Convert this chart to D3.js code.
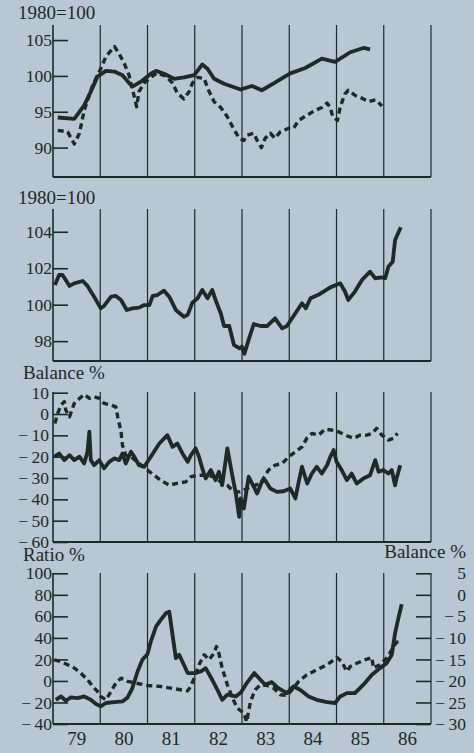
<!DOCTYPE html>
<html>
<head>
<meta charset="utf-8">
<script src="https://cdn.jsdelivr.net/npm/d3@7"></script>
<style>
  html, body { margin: 0; padding: 0; background: #b7c7d4; }
  svg { display: block; }
</style>
</head>
<body>
<div id="chart"></div>
<script>
// x axis: year boundaries and labels
const yearLines = [1979, 1980, 1981, 1982, 1983, 1984, 1985, 1986, 1987];
const yearLabels = ['79', '80', '81', '82', '83', '84', '85', '86'];

// panel 1 (1980 = 100)
const p1Ticks = [90, 95, 100, 105];
const p1Solid = [[1979.1,94.2],[1979.45,94.0],[1979.66,95.9],[1979.8,97.8],[1979.94,99.9],[1980.12,100.7],[1980.3,100.6],[1980.47,100.1],[1980.68,98.5],[1980.86,99.2],[1981.07,100.3],[1981.18,100.7],[1981.35,100.3],[1981.56,99.6],[1981.77,99.8],[1981.99,100.1],[1982.16,101.6],[1982.27,101.0],[1982.41,99.6],[1982.62,98.9],[1982.97,98.1],[1983.21,98.6],[1983.42,98.0],[1983.67,98.95],[1984.02,100.35],[1984.34,101.1],[1984.69,102.4],[1984.97,101.97],[1985.29,103.3],[1985.57,103.9],[1985.71,103.7]];
const p1Dashed = [[1979.1,92.4],[1979.31,92.2],[1979.45,90.5],[1979.56,92.0],[1979.66,95.2],[1979.84,98.7],[1980.01,101.0],[1980.12,102.7],[1980.3,104.1],[1980.4,103.1],[1980.51,101.7],[1980.61,100.1],[1980.72,97.1],[1980.77,95.7],[1980.82,97.8],[1980.93,99.0],[1981.04,99.65],[1981.2,100.4],[1981.38,100.0],[1981.53,99.0],[1981.63,97.6],[1981.77,96.8],[1981.88,97.8],[1981.95,99.0],[1982.06,99.8],[1982.2,99.65],[1982.27,98.3],[1982.41,96.4],[1982.55,95.6],[1982.69,94.3],[1982.8,92.9],[1982.94,91.3],[1983.04,91.0],[1983.1,91.7],[1983.25,92.0],[1983.32,91.0],[1983.41,90.0],[1983.49,91.3],[1983.6,92.0],[1983.7,91.3],[1983.81,92.2],[1983.99,92.7],[1984.09,92.7],[1984.2,93.8],[1984.37,94.5],[1984.55,95.2],[1984.69,95.6],[1984.8,96.2],[1984.87,95.6],[1984.92,94.3],[1985.02,93.8],[1985.08,95.7],[1985.18,97.5],[1985.25,98.0],[1985.39,97.3],[1985.54,96.9],[1985.68,96.4],[1985.78,96.6],[1985.85,96.6],[1985.96,95.8]];

// panel 2 (1980 = 100)
const p2Ticks = [98, 100, 102, 104];
const p2Solid = [[1979.04,101.08],[1979.13,101.63],[1979.2,101.63],[1979.27,101.36],[1979.35,101.03],[1979.45,101.17],[1979.63,101.3],[1979.73,101.03],[1979.87,100.44],[1980.01,99.8],[1980.08,99.93],[1980.23,100.44],[1980.33,100.48],[1980.44,100.26],[1980.56,99.71],[1980.68,99.8],[1980.82,99.84],[1980.93,99.98],[1981.04,99.98],[1981.11,100.48],[1981.21,100.53],[1981.35,100.77],[1981.46,100.44],[1981.6,99.71],[1981.77,99.34],[1981.85,99.44],[1981.95,100.11],[1982.06,100.35],[1982.16,100.81],[1982.27,100.35],[1982.37,100.81],[1982.44,100.26],[1982.55,99.53],[1982.62,98.83],[1982.73,98.83],[1982.83,97.79],[1982.94,97.61],[1983.0,97.7],[1983.05,97.3],[1983.14,98.07],[1983.25,98.94],[1983.39,98.83],[1983.53,98.83],[1983.7,99.25],[1983.85,98.7],[1983.95,98.83],[1984.13,99.53],[1984.27,100.08],[1984.35,99.8],[1984.45,100.35],[1984.65,100.59],[1984.87,100.95],[1985.08,101.17],[1985.18,100.72],[1985.25,100.26],[1985.39,100.72],[1985.54,101.36],[1985.71,101.81],[1985.82,101.45],[1985.96,101.5],[1986.03,101.45],[1986.1,102.09],[1986.19,102.36],[1986.24,103.55],[1986.36,104.25]];

// panel 3 (Balance %)
const p3Ticks = [10, 0, -10, -20, -30, -40, -50, -60];
const p3Solid = [[1979.03,-20.0],[1979.13,-18.5],[1979.24,-21.6],[1979.35,-19.3],[1979.45,-21.6],[1979.56,-20.0],[1979.66,-23.2],[1979.73,-17.7],[1979.77,-8.3],[1979.8,-21.6],[1979.87,-24.0],[1979.98,-21.6],[1980.08,-25.5],[1980.19,-22.4],[1980.3,-20.8],[1980.4,-21.6],[1980.47,-18.5],[1980.54,-23.2],[1980.65,-17.7],[1980.72,-20.0],[1980.82,-24.0],[1980.93,-24.7],[1981.07,-20.0],[1981.25,-13.8],[1981.42,-9.9],[1981.53,-15.4],[1981.63,-13.8],[1981.74,-18.5],[1981.85,-22.4],[1981.92,-19.3],[1982.02,-16.1],[1982.09,-20.0],[1982.16,-25.5],[1982.23,-30.2],[1982.34,-26.3],[1982.44,-31.0],[1982.51,-27.1],[1982.58,-33.4],[1982.69,-16.1],[1982.8,-29.4],[1982.87,-37.3],[1982.94,-48.2],[1982.97,-39.6],[1983.04,-44.3],[1983.14,-29.4],[1983.25,-34.1],[1983.32,-37.3],[1983.42,-31.8],[1983.49,-31.0],[1983.6,-34.9],[1983.74,-36.5],[1983.88,-36.2],[1984.02,-34.9],[1984.13,-39.6],[1984.2,-31.8],[1984.27,-24.7],[1984.38,-32.6],[1984.48,-27.9],[1984.58,-24.7],[1984.69,-27.9],[1984.8,-24.0],[1984.87,-20.0],[1984.94,-16.9],[1985.0,-22.4],[1985.11,-26.3],[1985.22,-31.0],[1985.32,-27.9],[1985.43,-32.6],[1985.57,-30.2],[1985.71,-28.7],[1985.82,-21.6],[1985.89,-27.1],[1985.99,-26.3],[1986.1,-27.9],[1986.17,-26.3],[1986.24,-33.4],[1986.27,-30.2],[1986.35,-24.0]];
const p3Dashed = [[1979.04,-4.4],[1979.1,0.3],[1979.17,4.2],[1979.24,5.8],[1979.27,1.9],[1979.35,-1.3],[1979.45,5.0],[1979.56,7.3],[1979.66,9.2],[1979.77,7.3],[1979.87,8.1],[1979.98,7.3],[1980.08,5.0],[1980.23,4.2],[1980.33,3.4],[1980.37,-1.3],[1980.44,-8.3],[1980.47,-14.6],[1980.54,-19.3],[1980.65,-20.0],[1980.82,-23.2],[1981.0,-26.3],[1981.14,-28.7],[1981.28,-31.0],[1981.46,-33.4],[1981.6,-32.6],[1981.81,-31.8],[1981.92,-29.4],[1982.06,-28.7],[1982.23,-28.7],[1982.41,-29.4],[1982.55,-31.8],[1982.69,-33.4],[1982.83,-36.5],[1982.96,-36.5],[1983.18,-34.1],[1983.39,-32.6],[1983.56,-26.3],[1983.7,-24.0],[1983.85,-23.2],[1983.99,-20.0],[1984.13,-17.7],[1984.27,-15.4],[1984.37,-11.4],[1984.48,-9.1],[1984.62,-9.9],[1984.76,-7.1],[1984.9,-7.5],[1985.04,-8.3],[1985.22,-10.2],[1985.36,-11.4],[1985.5,-9.9],[1985.64,-9.9],[1985.75,-9.1],[1985.85,-6.7],[1985.96,-9.9],[1986.1,-12.2],[1986.2,-11.4],[1986.29,-9.1]];

// panel 4 (Ratio % left, Balance % right)
const p4Ticks = [-40, -20, 0, 20, 40, 60, 80, 100];
const p4RightTicks = [-30, -25, -20, -15, -10, -5, 0, 5];
const p4Solid = [[1979.06,-17.5],[1979.17,-14.4],[1979.27,-18.4],[1979.38,-15.3],[1979.52,-15.9],[1979.66,-14.4],[1979.8,-17.5],[1979.91,-21.5],[1980.01,-23.6],[1980.12,-20.5],[1980.3,-19.6],[1980.47,-19.0],[1980.58,-15.3],[1980.68,-6.6],[1980.79,8.8],[1980.89,19.6],[1981.0,24.9],[1981.07,36.6],[1981.18,50.5],[1981.28,56.7],[1981.39,62.9],[1981.46,64.4],[1981.53,42.8],[1981.6,21.2],[1981.67,24.3],[1981.77,15.0],[1981.85,7.3],[1981.99,7.3],[1982.13,8.8],[1982.23,11.9],[1982.37,1.1],[1982.48,-8.2],[1982.58,-17.5],[1982.69,-12.8],[1982.87,-14.4],[1982.98,-10.5],[1983.1,-2.0],[1983.26,7.3],[1983.39,1.1],[1983.49,-3.5],[1983.63,-1.1],[1983.77,-6.6],[1983.95,-11.3],[1984.09,-5.1],[1984.23,-8.2],[1984.41,-14.4],[1984.58,-17.5],[1984.8,-19.6],[1984.97,-20.5],[1985.08,-14.4],[1985.22,-11.3],[1985.39,-11.3],[1985.57,-3.5],[1985.75,5.7],[1985.92,11.9],[1986.06,16.5],[1986.17,24.3],[1986.24,44.4],[1986.31,58.3],[1986.38,71.2]];
const p4Dashed = [[1979.03,-15.1],[1979.17,-15.5],[1979.31,-16.25],[1979.45,-17.0],[1979.59,-18.2],[1979.73,-19.7],[1979.84,-21.3],[1979.94,-22.4],[1980.01,-23.6],[1980.12,-24.4],[1980.23,-22.4],[1980.33,-20.5],[1980.44,-19.35],[1980.58,-20.1],[1980.75,-20.5],[1981.0,-21.05],[1981.28,-21.3],[1981.56,-21.8],[1981.85,-22.3],[1981.9,-21.5],[1981.99,-19.35],[1982.09,-16.25],[1982.2,-13.9],[1982.3,-15.1],[1982.41,-13.55],[1982.46,-12.0],[1982.51,-13.55],[1982.58,-17.0],[1982.69,-20.9],[1982.8,-24.0],[1982.9,-26.3],[1983.04,-27.5],[1983.1,-29.5],[1983.14,-27.0],[1983.18,-24.75],[1983.28,-22.05],[1983.39,-20.9],[1983.53,-21.05],[1983.67,-21.65],[1983.81,-23.2],[1983.95,-23.35],[1984.06,-22.05],[1984.2,-20.1],[1984.37,-18.6],[1984.58,-17.4],[1984.8,-16.25],[1985.01,-14.55],[1985.11,-15.5],[1985.22,-17.8],[1985.29,-16.65],[1985.43,-15.9],[1985.6,-15.1],[1985.75,-14.55],[1985.78,-17.0],[1985.92,-16.25],[1986.06,-14.7],[1986.17,-12.8],[1986.27,-11.0],[1986.38,-10.85]];

const ink = '#1c2b25';
const font = '"Liberation Serif", "Times New Roman", "DejaVu Serif", serif';
const width = 474, height = 753;

const svg = d3.select('#chart')
  .append('svg')
  .attr('width', width)
  .attr('height', height);

svg.append('rect').attr('width', width).attr('height', height).attr('fill', '#b7c7d4');

const x = d3.scaleLinear().domain([1979, 1987]).range([53, 431]);

const minus = d => d < 0 ? '\u2212\u2009' + Math.abs(d) : String(d);

const panels = [
  {top: 25, bottom: 177, domain: [85.9, 107.1], range: [177, 25], ticks: p1Ticks, title: '1980=100', titleY: 19, labelX: 53,
   series: [{data: p1Dashed, dashed: true}, {data: p1Solid}]},
  {top: 209, bottom: 361, domain: [96.91, 105.25], range: [361, 209], ticks: p2Ticks, title: '1980=100', titleY: 204, labelX: 53,
   series: [{data: p2Solid}]},
  {top: 392, bottom: 542, domain: [-60, 10], range: [542, 392.7], ticks: p3Ticks, title: 'Balance %', titleY: 379, titleX: 23, labelX: 50,
   series: [{data: p3Dashed, dashed: true}, {data: p3Solid}]},
  {top: 573, bottom: 724, domain: [-40, 100], range: [724, 573.3], ticks: p4Ticks, title: 'Ratio %', titleY: 561, titleX: 23, labelX: 53,
   series: [{data: p4Dashed, dashed: true, right: true}, {data: p4Solid}]}
];

panels.forEach((p, i) => {
  const g = svg.append('g');
  const y = d3.scaleLinear().domain(p.domain).range(p.range);

  // year grid lines and left axis line
  g.selectAll('line.grid')
    .data(yearLines)
    .enter()
    .append('line')
    .attr('x1', d => x(d)).attr('x2', d => x(d))
    .attr('y1', p.top).attr('y2', p.bottom)
    .attr('stroke', ink)
    .attr('stroke-width', d => d === 1979 ? 1.6 : 1.2);

  // bottom line
  g.append('line')
    .attr('x1', x(1979)).attr('x2', x(1987))
    .attr('y1', p.bottom).attr('y2', p.bottom)
    .attr('stroke', ink).attr('stroke-width', 1.8);

  // left ticks, pointing inwards
  const ax = g.append('g')
    .attr('transform', `translate(${x(1979)},0)`)
    .call(d3.axisLeft(y).tickValues(p.ticks).tickSize(-15).tickPadding(53 - p.labelX + 1).tickFormat(minus));
  ax.select('.domain').remove();
  ax.selectAll('line').attr('stroke', ink).attr('stroke-width', 1.6);
  ax.selectAll('text')
    .attr('fill', ink)
    .style('font-family', font)
    .style('font-size', '17.5px');

  // title
  svg.append('text')
    .attr('x', p.titleX || 18)
    .attr('y', p.titleY)
    .attr('fill', ink)
    .style('font-family', font)
    .style('font-size', '19px')
    .text(p.title);

  // right axis for the last panel
  let yRight = null;
  if (i === 3) {
    yRight = d3.scaleLinear().domain([-30, 5]).range(p.range);
    const ar = g.append('g')
      .attr('transform', `translate(${x(1987)},0)`)
      .call(d3.axisRight(yRight).tickValues(p4RightTicks).tickSize(-15).tickFormat(minus));
    ar.select('.domain').remove();
    ar.selectAll('line').attr('stroke', ink).attr('stroke-width', 1.6);
    ar.selectAll('text')
      .attr('x', 35)
      .attr('text-anchor', 'end')
      .attr('fill', ink)
      .style('font-family', font)
      .style('font-size', '17.5px');

    svg.append('text')
      .attr('x', 466)
      .attr('y', 558)
      .attr('text-anchor', 'end')
      .attr('fill', ink)
      .style('font-family', font)
      .style('font-size', '19px')
      .text('Balance %');

    // year labels
    svg.selectAll('text.year')
      .data(yearLabels)
      .enter()
      .append('text')
      .attr('class', 'year')
      .attr('x', (d, k) => x(1979.5 + k))
      .attr('y', 745)
      .attr('text-anchor', 'middle')
      .attr('fill', ink)
      .style('font-family', font)
      .style('font-size', '19px')
      .text(d => d);
  }

  // series
  p.series.forEach(s => {
    const ys = s.right ? yRight : y;
    const line = d3.line()
      .x(d => x(d[0]))
      .y(d => ys(d[1]));
    g.append('path')
      .datum(s.data)
      .attr('fill', 'none')
      .attr('stroke', ink)
      .attr('stroke-width', s.dashed ? 3.4 : 3.8)
      .attr('stroke-linejoin', 'round')
      .attr('stroke-dasharray', s.dashed ? '6,4' : null)
      .attr('d', line);
  });
});
</script>
</body>
</html>
